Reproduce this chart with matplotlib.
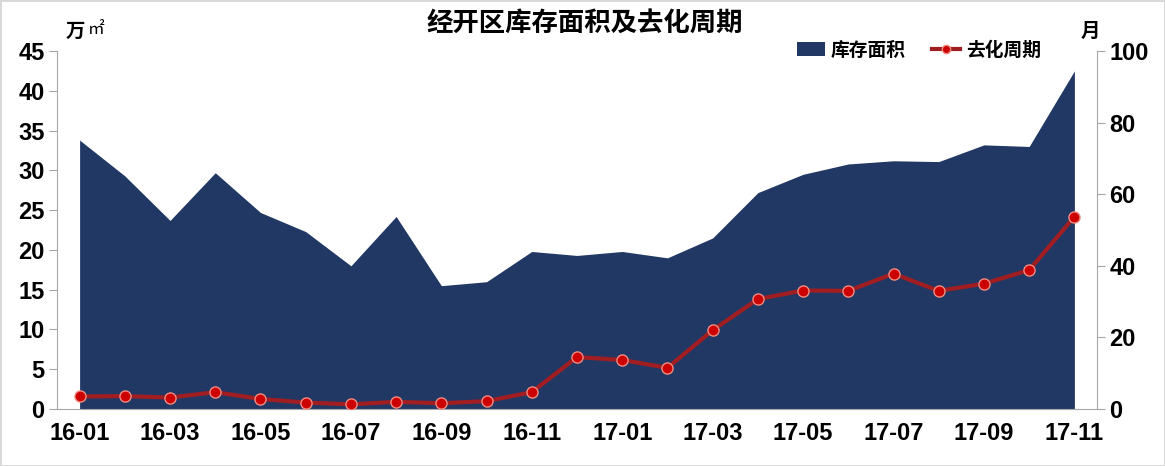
import numpy as np
import matplotlib
matplotlib.use("Agg")
from matplotlib import pyplot as plt

plt.rcParams['font.family'] = ['Liberation Sans', 'Noto Sans CJK SC', 'DejaVu Sans']

# months 16-01 .. 17-11
months = ['16-01', '16-02', '16-03', '16-04', '16-05', '16-06', '16-07', '16-08',
          '16-09', '16-10', '16-11', '16-12', '17-01', '17-02', '17-03', '17-04',
          '17-05', '17-06', '17-07', '17-08', '17-09', '17-10', '17-11']

# inventory area, 万㎡ (left axis)
stock = [33.8, 29.3, 23.7, 29.7, 24.7, 22.3, 18.0, 24.2, 15.5, 16.0, 19.8, 19.3,
         19.8, 19.0, 21.5, 27.2, 29.5, 30.8, 31.2, 31.1, 33.2, 33.0, 42.5]

# destocking cycle, months (right axis)
cycle = [3.5, 3.6, 3.2, 4.7, 2.8, 1.8, 1.3, 2.0, 1.6, 2.2, 4.7, 14.5,
         13.7, 11.5, 22.0, 30.7, 33.1, 33.0, 37.8, 33.0, 35.0, 38.8, 53.7]

x = np.arange(len(months))
cjk = ['Noto Sans CJK SC', 'DejaVu Sans']

fig = plt.figure(figsize=(11.65, 4.66), dpi=100, edgecolor='#d9d9d9', linewidth=2)
ax = fig.add_axes([57 / 1165, 1 - 409 / 466, 1040 / 1165, 358 / 466])
ax2 = ax.twinx()

ax.fill_between(x, stock, 0, color='#213764', linewidth=0, label='库存面积')
ax2.plot(x, cycle, color='#A01E22', linewidth=3, marker='o', markersize=8,
         markerfacecolor='#CC0000', markeredgecolor='#F08C80', markeredgewidth=1,
         label='去化周期')

ax.set_xlim(-0.5, len(months) - 0.5)
ax.set_ylim(0, 45)
ax2.set_ylim(0, 100)
ax.set_yticks(np.arange(0, 46, 5))
ax2.set_yticks(np.arange(0, 101, 20))
ax.set_xticks(x[::2])
ax.set_xticklabels(months[::2])

for a in (ax, ax2):
    a.spines['top'].set_visible(False)
    for s in ('left', 'right', 'bottom'):
        a.spines[s].set_color('#a6a6a6')
ax.spines['right'].set_visible(False)
ax2.spines['left'].set_visible(False)
ax2.spines['bottom'].set_visible(False)

ax.tick_params(axis='y', length=6, color='#a6a6a6', labelsize=17, pad=3)
ax2.tick_params(axis='y', length=6, color='#a6a6a6', labelsize=17, pad=3)
ax.tick_params(axis='x', length=0, labelsize=17, pad=9)
for lab in ax.get_yticklabels() + ax2.get_yticklabels() + ax.get_xticklabels():
    lab.set_fontweight('bold')

fig.text(0.502, 0.950, '经开区库存面积及去化周期', ha='center', va='center',
         fontsize=19, fontweight='heavy', family=cjk)
fig.text(66 / 1165, 1 - 31 / 466, '万', ha='left', va='center', fontsize=14,
         fontweight='heavy', family=cjk)
fig.text(88 / 1165, 1 - 30 / 466, '㎡', ha='left', va='center', fontsize=12,
         family=['DejaVu Serif', 'Noto Sans CJK SC'])
fig.text(1090 / 1165, 1 - 31 / 466, '月', ha='center', va='center', fontsize=14,
         fontweight='heavy', family=cjk)

h1, l1 = ax.get_legend_handles_labels()
h2, l2 = ax2.get_legend_handles_labels()
leg = ax2.legend(h1 + h2, l1 + l2, loc='center left',
                 bbox_to_anchor=(797 / 1165, 1 - 50 / 466), bbox_transform=fig.transFigure,
                 ncol=2, frameon=False, borderpad=0, borderaxespad=0,
                 handlelength=1.5, handleheight=0.8, handletextpad=0.3,
                 columnspacing=1.4, markerscale=0.75,
                 prop={'family': cjk, 'size': 13.5, 'weight': 'heavy'})

fig.savefig('out.png', dpi=100, edgecolor=fig.get_edgecolor())
